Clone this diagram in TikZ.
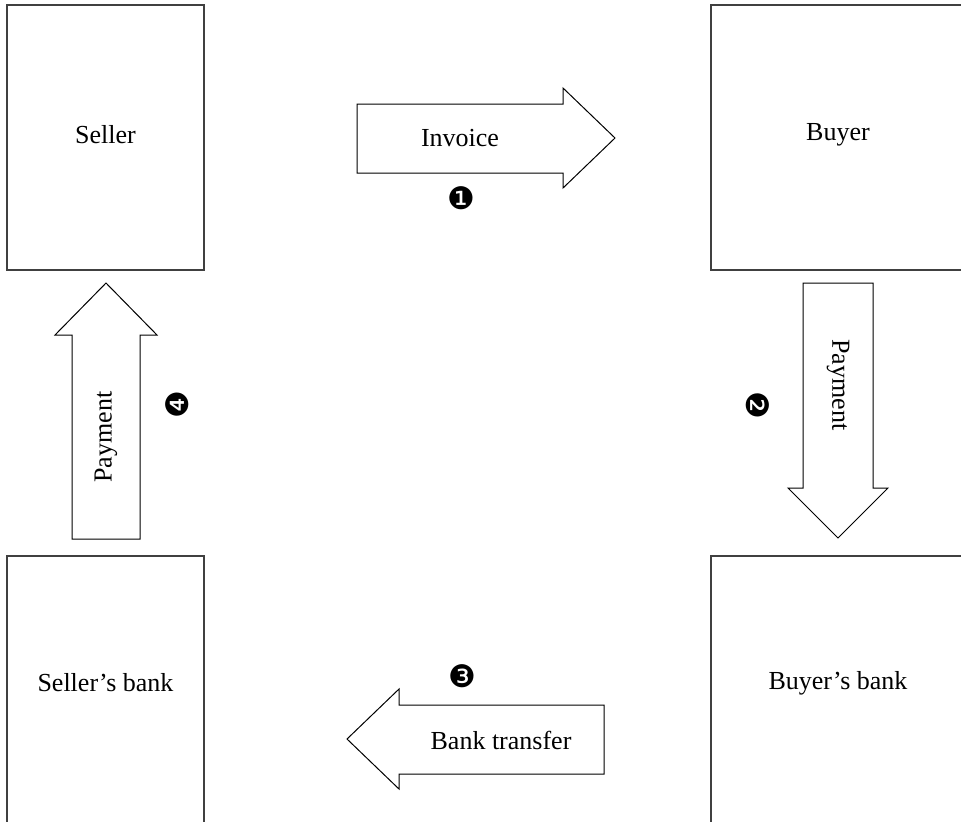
\documentclass[tikz,border=0pt]{standalone}
\usepackage{fontspec}
\setmainfont{Liberation Serif}
\newfontfamily\dingfont{DejaVu Sans}
\begin{document}
\begin{tikzpicture}[x=0.5pt,y=-0.5pt,
  box/.style={draw=black!75,line width=0.7pt,fill=white,font=\fontsize{13}{15}\selectfont,
    minimum width=98.5pt,inner sep=0pt},
  blockarrow/.style={draw=black,line width=0.5pt,fill=white,line join=miter},
  lbl/.style={font=\fontsize{13}{15}\selectfont,inner sep=0pt},
  num/.style={font=\dingfont\fontsize{15.5}{17}\selectfont,inner sep=0pt}]
\useasboundingbox (0,0) rectangle (961,821);
\clip (0,0) rectangle (961,821);
% boxes
\node[box,minimum height=132.5pt,label={[lbl,yshift=1.5pt]center:Seller}] (seller) at (105.5,137.5) {};
\node[box,minimum width=127pt,minimum height=132.5pt,label={[lbl,yshift=1.5pt]center:Buyer}] (buyer) at (838,137.5) {};
\node[box,minimum height=137pt,label={[lbl,yshift=5pt]center:Seller’s bank}] (sbank) at (105.5,693) {};
\node[box,minimum width=127pt,minimum height=137pt,label={[lbl,yshift=5pt]center:Buyer’s bank}] (bbank) at (838,693) {};
% 1: Invoice
\draw[blockarrow] (357,104) -- (563,104) -- (563,88) -- (615,138) -- (563,188) -- (563,173) -- (357,173) -- cycle;
\node[lbl] (invoice) at (460,138) {Invoice};
\node[num] (n1) at (461,198) {❶};
% 2: Payment down
\draw[blockarrow] (803,283) -- (873,283) -- (873,488) -- (888,488) -- (838,538) -- (788,488) -- (803,488) -- cycle;
\node[lbl,rotate=-90] (pay2) at (838,385) {Payment};
\node[num,rotate=-90] (n2) at (758,405) {❷};
% 3: Bank transfer left
\draw[blockarrow] (604,705) -- (399,705) -- (399,689) -- (347,739) -- (399,789) -- (399,774) -- (604,774) -- cycle;
\node[lbl] (transfer) at (501,740) {Bank transfer};
\node[num] (n3) at (462,676) {❸};
% 4: Payment up
\draw[blockarrow] (72,539) -- (72,335) -- (55,335) -- (106,283) -- (157,335) -- (140,335) -- (140,539) -- cycle;
\node[lbl,rotate=90] (pay4) at (106,437) {Payment};
\node[num,rotate=90] (n4) at (177,405) {❹};
\end{tikzpicture}
\end{document}
